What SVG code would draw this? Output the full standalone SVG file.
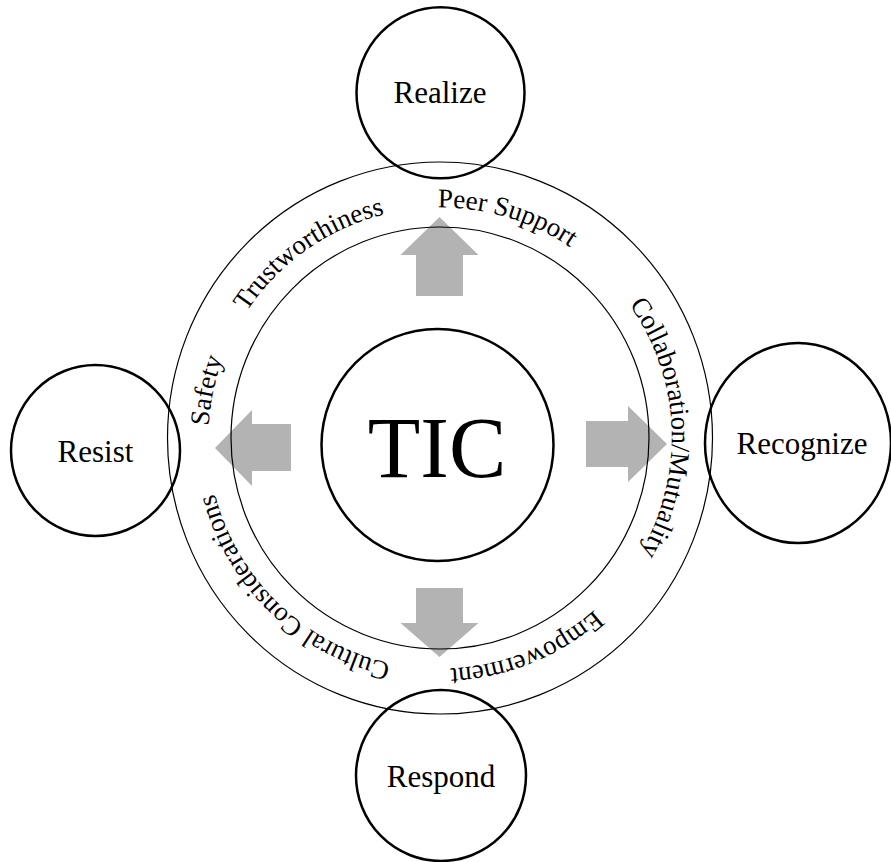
<svg xmlns="http://www.w3.org/2000/svg" width="891" height="862" viewBox="0 0 891 862">
<style>
.node{fill:none;stroke:#000;stroke-width:2.5}
.ring{fill:none;stroke:#000;stroke-width:1.2}
.lbl{font-family:"Liberation Serif","Times New Roman",serif;font-size:31px;fill:#000;text-anchor:middle}
.ringtxt{font-family:"Liberation Serif","Times New Roman",serif;font-size:27px;fill:#000}
.arrow{fill:#b3b3b3;stroke:none}
</style>
<defs>
<path id="tp" d="M 211.53 478.29 A 232 232 0 0 1 668.47 397.71 A 232 232 0 0 1 211.53 478.29"/>
</defs>
<rect width="891" height="862" fill="#fff"/>
<g id="connectors">
<polygon class="arrow" points="439.5,217 478.5,255 463,255 463,296 416,296 416,255 400.5,255"/>
<polygon class="arrow" points="416,588 463,588 463,623 478.5,623 439.5,657 400.5,623 416,623"/>
<polygon class="arrow" points="215,448 252,410 252,424 291,424 291,471 252,471 252,486"/>
<polygon class="arrow" points="586,421 628,421 628,406 667,444 628,482 628,467 586,467"/>
</g>
<g id="ring">
<ellipse class="ring" cx="440" cy="438" rx="272.5" ry="276"/>
<ellipse class="ring" cx="440" cy="438" rx="209" ry="211"/>
<text class="ringtxt"><textPath href="#tp" startOffset="52.6">Safety</textPath></text>
<text class="ringtxt"><textPath href="#tp" startOffset="174.1">Trustworthiness</textPath></text>
<text class="ringtxt"><textPath href="#tp" startOffset="400.9">Peer Support</textPath></text>
<text class="ringtxt"><textPath href="#tp" startOffset="623.6">Collaboration/Mutuality</textPath></text>
<text class="ringtxt"><textPath href="#tp" startOffset="959.7">Empowerment</textPath></text>
<text class="ringtxt"><textPath href="#tp" startOffset="1178.3">Cultural Considerations</textPath></text>
</g>
<g id="tic">
<circle class="node" cx="437.5" cy="445" r="116"/>
<text class="lbl" x="437" y="477" style="font-size:86px">TIC</text>
</g>
<g id="realize">
<ellipse class="node" cx="440.5" cy="92.8" rx="84" ry="85.5"/>
<text class="lbl" x="440" y="103">Realize</text>
</g>
<g id="recognize">
<ellipse class="node" cx="798" cy="443" rx="93" ry="100"/>
<text class="lbl" x="802" y="454">Recognize</text>
</g>
<g id="respond">
<ellipse class="node" cx="441" cy="775.5" rx="85" ry="85.5"/>
<text class="lbl" x="441" y="787">Respond</text>
</g>
<g id="resist">
<ellipse class="node" cx="95.5" cy="450.5" rx="84.5" ry="85.5"/>
<text class="lbl" x="95.5" y="462">Resist</text>
</g>
</svg>
